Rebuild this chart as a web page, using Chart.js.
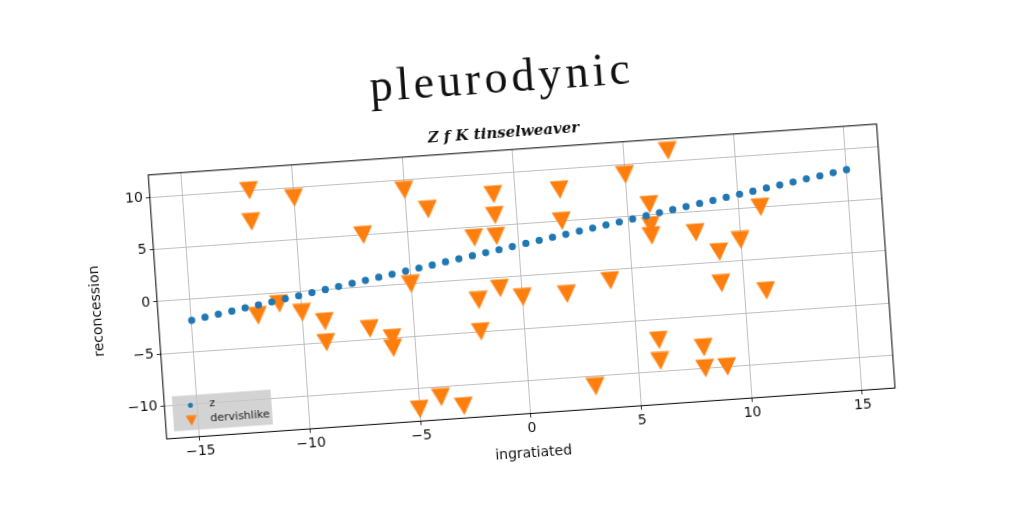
<!DOCTYPE html>
<html>
<head>
<meta charset="utf-8">
<script src="https://cdn.jsdelivr.net/npm/chart.js@4.4.0/dist/chart.umd.min.js"></script>
<style>
  html, body { margin: 0; padding: 0; background: #fff; overflow: hidden; }
  #wrap {
    position: absolute; left: 0; top: 0; width: 1024px; height: 512px;
    transform: rotate(-4deg); transform-origin: 512px 256px;
  }
</style>
</head>
<body>
<div id="wrap"><canvas id="chart" width="1024" height="512"></canvas></div>
<script>
// ── Data ────────────────────────────────────────────────────────
const zX = [
  -15.00, -14.39, -13.78, -13.16, -12.55, -11.94, -11.33, -10.71, -10.10, -9.49,
  -8.88, -8.27, -7.65, -7.04, -6.43, -5.82, -5.20, -4.59, -3.98, -3.37,
  -2.76, -2.14, -1.53, -0.92, -0.31, 0.31, 0.92, 1.53, 2.14, 2.76,
  3.37, 3.98, 4.59, 5.20, 5.82, 6.43, 7.04, 7.65, 8.27, 8.88,
  9.49, 10.10, 10.71, 11.33, 11.94, 12.55, 13.16, 13.78, 14.39, 15.00,
];
const zY = [
  -2.00, -1.80, -1.59, -1.39, -1.18, -0.98, -0.78, -0.57, -0.37, -0.16,
  0.04, 0.24, 0.45, 0.65, 0.86, 1.06, 1.27, 1.47, 1.67, 1.88,
  2.08, 2.29, 2.49, 2.69, 2.90, 3.10, 3.31, 3.51, 3.71, 3.92,
  4.12, 4.33, 4.53, 4.73, 4.94, 5.14, 5.35, 5.55, 5.76, 5.96,
  6.16, 6.37, 6.57, 6.78, 6.98, 7.18, 7.39, 7.59, 7.80, 8.00,
];
const dervX = [
  -12, -12, -10, -7, -5, -4, -1, -1, -2, -1, 2, 2, 5, -5, 4, -1,
  -2, 0, 2, -2, -6, -6, 3, -4, -3, -5, -12, -11, -10, -9, -9, -7,
  7, 6, 6, 6, 8, 11, 9, 10, 9, 11, 6, 6, 8, 8, 9,
];
const dervY = [
  10, 7, 9, 5, 9, 7, 8, 6, 4, 4, 8, 5, 9, 0, -1, -1,
  -2, -2, -2, -5, -5, -6, -11, -11, -12, -12, -2, -1, -2, -3, -5, -4,
  11, 6, 4, 3, 3, 5, 1, 2, -2, -3, -7, -9, -8, -10, -10,
];
const xTicks = [-15, -10, -5, 0, 5, 10, 15];
const yTicks = [-10, -5, 0, 5, 10];

const BLUE = "#1f77b4";
const ORANGE = "#ff7f0e";
const minus = v => String(v).replace("-", "\u2212");

// matplotlib-style "v" marker (centred on its bounding box)
function triangleImage(w, h, color) {
  const c = document.createElement("canvas");
  c.width = w; c.height = h;
  const g = c.getContext("2d");
  g.fillStyle = color;
  g.beginPath();
  g.moveTo(0.5, 0.5); g.lineTo(w - 0.5, 0.5); g.lineTo(w / 2, h - 0.5);
  g.closePath(); g.fill();
  return c;
}
const triBig = triangleImage(20, 19, ORANGE);
const triSmall = triangleImage(12, 11, ORANGE);

// ── Frame, titles and in-axes legend ─────────────────────────────
const decorations = {
  id: "decorations",
  afterDraw(chart) {
    const { ctx, chartArea: a } = chart;
    ctx.save();
    ctx.strokeStyle = "#000";
    ctx.lineWidth = 1;
    ctx.strokeRect(a.left, a.top, a.right - a.left, a.bottom - a.top);

    ctx.fillStyle = "#111";
    ctx.textAlign = "center";
    ctx.textBaseline = "middle";
    // typewriter-ish serif title, stretched to the reference width
    const title = "pleurodynic";
    ctx.font = "46px 'Liberation Serif'";
    const natural = ctx.measureText(title).width;
    const sp = Math.max(0, (265 - natural) / title.length);
    ctx.letterSpacing = sp.toFixed(1) + "px";
    ctx.fillText(title, 512 + sp / 2, 80);
    ctx.letterSpacing = "0px";
    ctx.font = "italic bold 15px 'DejaVu Serif'";
    ctx.fillText("Z f K tinselweaver", 512, 133);

    // legend box, lower left
    const lx = a.left + 8, ly = a.bottom - 42;
    ctx.fillStyle = "rgba(200,200,200,0.8)";
    ctx.fillRect(lx, ly, 99, 35);
    ctx.fillStyle = BLUE;
    ctx.beginPath(); ctx.arc(lx + 18, ly + 10, 2.5, 0, Math.PI * 2); ctx.fill();
    ctx.drawImage(triSmall, lx + 12, ly + 20);
    ctx.fillStyle = "#222";
    ctx.textAlign = "left";
    ctx.font = "11px 'DejaVu Sans'";
    ctx.fillText(chart.data.datasets[0].label, lx + 37, ly + 10);
    ctx.fillText(chart.data.datasets[1].label, lx + 37, ly + 25);
    ctx.restore();
  },
};

const tickFont = { family: "'DejaVu Sans'", size: 14 };

new Chart(document.getElementById("chart"), {
  type: "scatter",
  data: {
    datasets: [
      {
        label: "z",
        data: zX.map((x, i) => ({ x, y: zY[i] })),
        backgroundColor: BLUE,
        borderColor: BLUE,
        borderWidth: 0,
        pointRadius: 3.6,
      },
      {
        label: "dervishlike",
        data: dervX.map((x, i) => ({ x, y: dervY[i] })),
        pointStyle: triBig,
        backgroundColor: ORANGE,
      },
    ],
  },
  options: {
    responsive: false,
    animation: false,
    devicePixelRatio: 1,
    layout: { padding: { top: 149.8, right: 139.1, bottom: 37.6, left: 0 } },
    plugins: { legend: { display: false }, tooltip: { enabled: false } },
    scales: {
      x: {
        type: "linear",
        min: -16.5,
        max: 16.5,
        afterFit: s => { s.height = 60; },
        afterBuildTicks: s => { s.ticks = xTicks.map(v => ({ value: v })); },
        ticks: { font: tickFont, color: "#111", padding: 3, callback: minus },
        grid: { color: "#b0b0b0", lineWidth: 0.8, tickColor: "#000", tickLength: 4 },
        border: { display: false },
        title: {
          display: true, text: "ingratiated", color: "#111",
          font: tickFont, padding: { top: 0, bottom: 12 },
        },
      },
      y: {
        type: "linear",
        min: -13.15,
        max: 12.15,
        afterFit: s => { s.width = 154.8; },
        afterBuildTicks: s => { s.ticks = yTicks.map(v => ({ value: v })); },
        ticks: { font: tickFont, color: "#111", padding: 3, callback: minus },
        grid: { color: "#b0b0b0", lineWidth: 0.8, tickColor: "#000", tickLength: 4 },
        border: { display: false },
        title: {
          display: true, text: "reconcession", color: "#111",
          font: tickFont, padding: { top: 85.5, bottom: 0 },
        },
      },
    },
  },
  plugins: [decorations],
});
</script>
</body>
</html>
